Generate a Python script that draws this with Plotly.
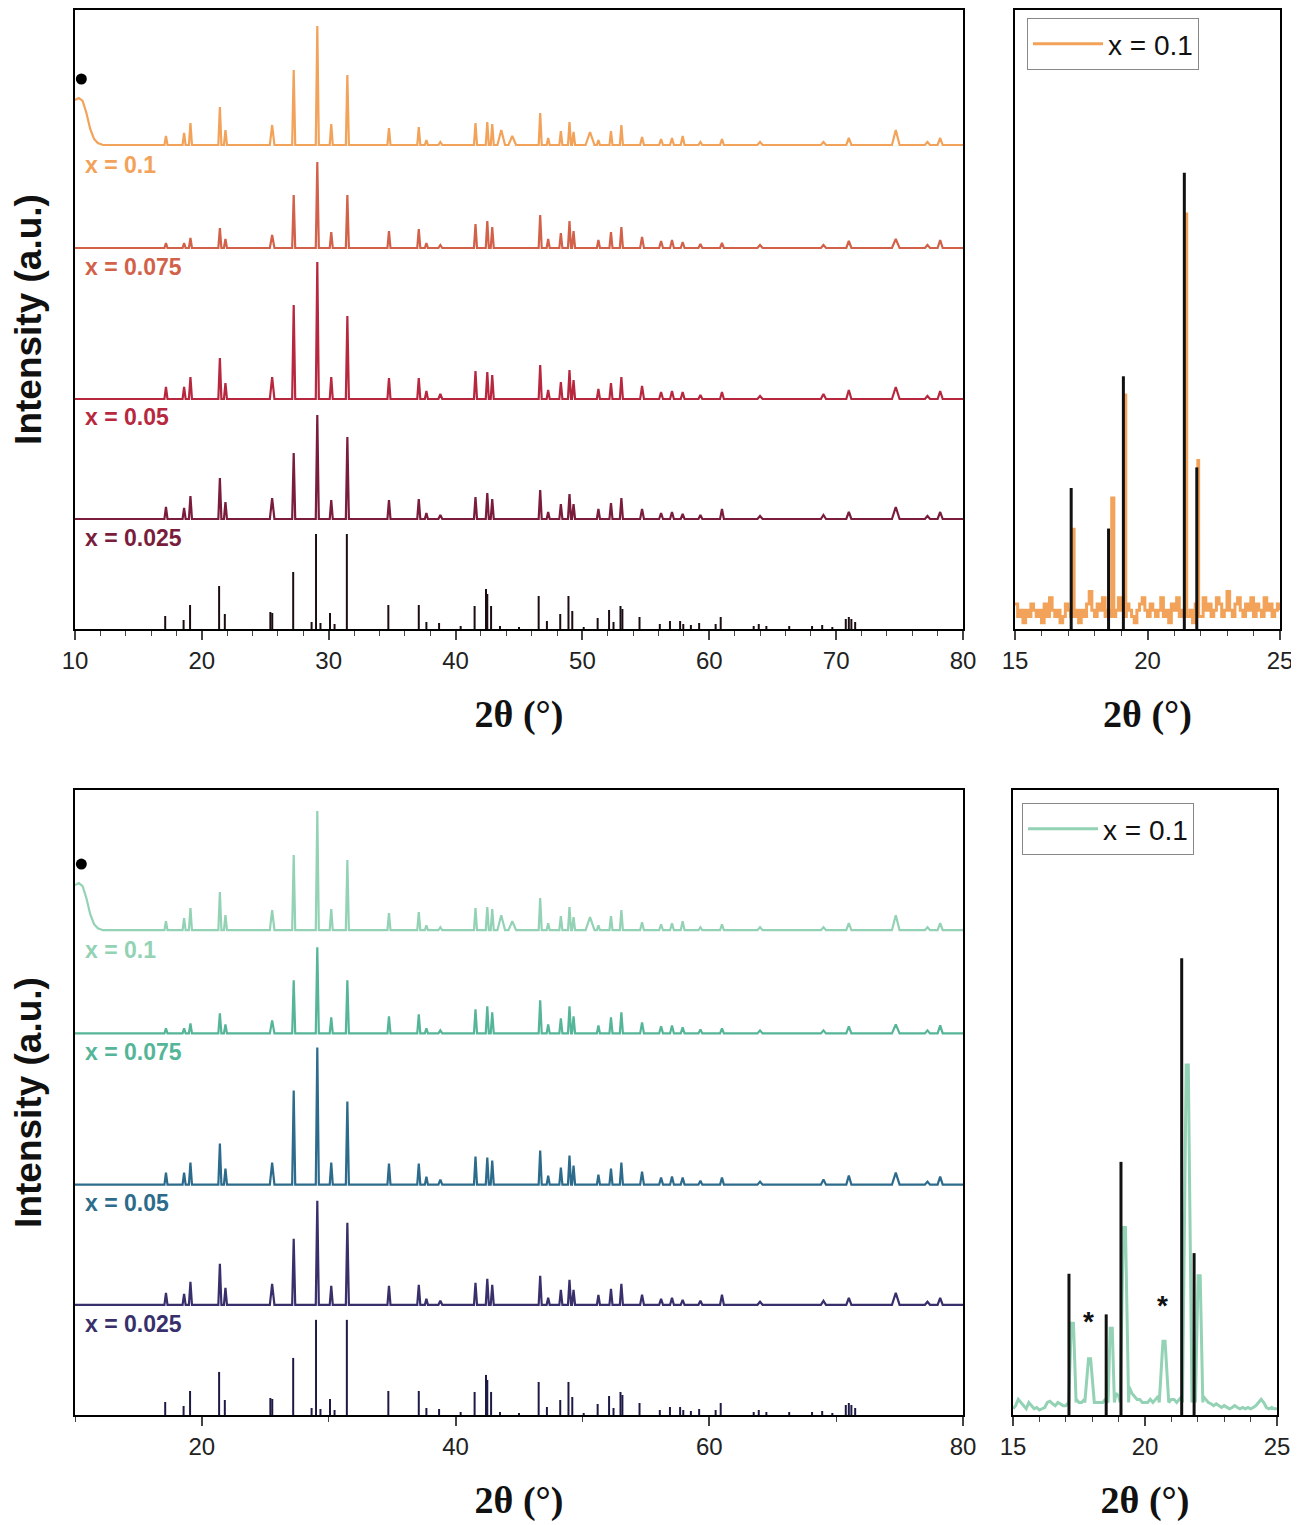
import plotly.graph_objects as go

# ---- data ------------------------------------------------------------------
# measured peak positions (2theta, deg) shared by all samples
PEAK_POS = [17.17, 18.6, 19.1, 21.42, 21.86, 25.54, 27.24, 29.1, 30.2, 31.47,
            34.75, 37.1, 37.7, 38.8, 41.57, 42.5, 42.89, 43.6, 44.47, 46.67,
            47.3, 48.3, 48.98, 49.3, 50.6, 51.26, 52.25, 53.07, 54.7, 56.2,
            57.06, 57.9, 59.3, 61.0, 64.0, 69.0, 71.0, 74.7, 77.2, 78.2]
PEAK_W = [0.12, 0.12, 0.12, 0.12, 0.12, 0.18, 0.12, 0.12, 0.12, 0.12,
          0.12, 0.12, 0.12, 0.15, 0.12, 0.12, 0.12, 0.3, 0.3, 0.12,
          0.12, 0.12, 0.12, 0.12, 0.35, 0.12, 0.12, 0.12, 0.15, 0.15,
          0.15, 0.15, 0.15, 0.15, 0.2, 0.2, 0.2, 0.3, 0.2, 0.2]

# peak heights (a.u.) per sample
H_010 = [9, 12, 22, 38, 15, 20, 75, 119, 21, 70,
         17, 18, 5, 3, 22, 23, 21, 15, 9, 32,
         7, 14, 23, 13, 13, 5, 14, 20, 8, 6,
         7, 9, 3, 6, 3, 3, 7, 15, 3, 7]
H_0075 = [5, 5, 10, 20, 9, 13, 53, 86, 16, 53,
          17, 19, 5, 3, 24, 27, 21, 0, 0, 33,
          9, 15, 27, 17, 0, 8, 16, 21, 11, 7,
          8, 6, 4, 5, 3, 3, 7, 9, 3, 8]
H_005 = [12, 12, 22, 41, 16, 22, 94, 137, 22, 83,
         21, 21, 8, 5, 28, 27, 24, 0, 0, 34,
         9, 17, 29, 19, 0, 10, 16, 22, 13, 7,
         8, 7, 4, 7, 3, 5, 9, 12, 3, 8]
H_0025 = [12, 11, 23, 41, 17, 21, 66, 104, 19, 82,
          19, 20, 6, 4, 22, 26, 20, 0, 0, 29,
          7, 15, 25, 15, 0, 10, 16, 21, 10, 6,
          7, 5, 4, 10, 3, 4, 7, 12, 3, 7]

SAMPLES = ["x = 0.1", "x = 0.075", "x = 0.05", "x = 0.025"]
HEIGHTS = [H_010, H_0075, H_005, H_0025]
BASELINES = [484, 381, 230, 110]
LABEL_Y = [464, 362, 212, 91]

# amorphous hump at low angle of x = 0.1
HUMP_X = [10.0, 10.3, 10.6, 10.9, 11.2, 11.5, 11.8, 12.2]
HUMP_Y = [45, 47, 44, 32, 16, 6, 2, 0]
DOT_X = [10.5]
DOT_Y = [550]

# reference pattern sticks
REF_POS = [17.11, 18.56, 19.07, 21.36, 21.81, 25.4, 25.55, 27.2, 28.65, 29.0,
           29.35, 30.1, 30.46, 31.43, 34.7, 37.1, 37.7, 38.7, 40.4, 41.5,
           42.4, 42.5, 42.8, 43.5, 45.0, 46.55, 47.2, 48.25, 48.9, 49.2,
           50.1, 51.2, 52.1, 52.45, 53.0, 53.15, 54.5, 56.1, 56.9, 57.7,
           57.95, 58.55, 59.2, 60.5, 60.9, 63.5, 63.9, 64.5, 66.3, 68.1,
           68.9, 69.7, 70.76, 71.0, 71.2, 71.5]
REF_H = [13, 9, 24, 43, 15, 17, 16, 57, 7, 95,
         6, 16, 5, 95, 24, 24, 7, 6, 3, 23,
         40, 35, 23, 3, 2, 33, 8, 15, 33, 18,
         2, 11, 19, 7, 23, 20, 12, 5, 8, 8,
         5, 4, 6, 5, 12, 3, 5, 3, 3, 3,
         4, 2, 10, 12, 10, 7]

# zoomed 15-25 deg panels
ZOOM_REF_POS = [17.12, 18.53, 19.09, 21.39, 21.86]
ZOOM_REF_H = [0.226, 0.161, 0.405, 0.731, 0.259]

TOP_ZOOM_POS = [17.2, 18.65, 19.15, 21.45, 21.9]
TOP_ZOOM_H = [0.16, 0.21, 0.375, 0.665, 0.27]
TOP_ZOOM_W = [0.03, 0.08, 0.03, 0.03, 0.03]
TOP_ZOOM_NOISE = [0.04, 0.02, 0.03, 0.01, 0.03, 0.02, 0.04, 0.03, 0.02, 0.03,
                  0.01, 0.04, 0.02, 0.05, 0.03, 0.02, 0.03, 0.01, 0.02, 0.04,
                  0.03, 0.02, 0.05, 0.03, 0.01, 0.03, 0.02, 0.04, 0.06, 0.03,
                  0.02, 0.04, 0.03, 0.05, 0.02, 0.03, 0.04, 0.02, 0.03, 0.05,
                  0.03, 0.02, 0.04, 0.03, 0.02, 0.01, 0.03, 0.04, 0.05, 0.03,
                  0.02, 0.04, 0.03, 0.02, 0.03, 0.05, 0.02, 0.03, 0.01, 0.04,
                  0.03, 0.05, 0.02, 0.03, 0.04, 0.02, 0.03, 0.01, 0.04, 0.03,
                  0.02, 0.05, 0.03, 0.04, 0.02, 0.03, 0.05, 0.04, 0.02, 0.03,
                  0.06, 0.03, 0.02, 0.04, 0.05, 0.03, 0.02, 0.04, 0.03, 0.05,
                  0.02, 0.04, 0.03, 0.02, 0.05, 0.03, 0.04, 0.02, 0.03, 0.04,
                  0.03]

BOT_ZOOM_POS = [17.25, 17.9, 18.72, 19.22, 20.72, 21.6, 22.05]
BOT_ZOOM_H = [0.147, 0.09, 0.139, 0.30, 0.118, 0.56, 0.223]
BOT_ZOOM_W = [0.14, 0.18, 0.12, 0.16, 0.18, 0.18, 0.14]
BOT_ZOOM_NOISE = [0.01, 0.015, 0.025, 0.02, 0.015, 0.01, 0.02, 0.015, 0.01, 0.012,
                  0.008, 0.01, 0.012, 0.02, 0.022, 0.018, 0.015, 0.02, 0.018, 0.015,
                  0.015, 0.02, 0.03, 0.03, 0.025, 0.02, 0.02, 0.025, 0.03, 0.03,
                  0.025, 0.02, 0.02, 0.02, 0.02, 0.025, 0.03, 0.04, 0.04, 0.035,
                  0.03, 0.03, 0.04, 0.06, 0.045, 0.035, 0.03, 0.025, 0.025, 0.02,
                  0.02, 0.02, 0.025, 0.02, 0.025, 0.03, 0.035, 0.04, 0.035, 0.03,
                  0.025, 0.025, 0.02, 0.025, 0.03, 0.04, 0.06, 0.05, 0.04, 0.035,
                  0.03, 0.035, 0.03, 0.025, 0.02, 0.018, 0.015, 0.018, 0.015, 0.012,
                  0.015, 0.012, 0.01, 0.012, 0.015, 0.012, 0.01, 0.012, 0.01, 0.012,
                  0.01, 0.012, 0.015, 0.02, 0.025, 0.02, 0.012, 0.01, 0.012, 0.01,
                  0.01]
ASTERISK_X = [17.85, 20.68]
ASTERISK_Y = [0.15, 0.175]

TOP_COLORS = ["#F2A259", "#D2614A", "#B7283F", "#7A1C3C"]
BOT_COLORS = ["#93D2B4", "#55B598", "#2C6B8B", "#38306B"]
TOP_REF = "#1c0c14"
BOT_REF = "#1d1b45"

W, H = 1299, 1525
PAGE_PAD = 8  # the browser's default body margin
SANS = "Liberation Sans, Arial, sans-serif"
SERIF = "Liberation Serif, Times New Roman, serif"


def fx(px):
    return min(1.0, max(0.0, (px - PAGE_PAD) / W))


def fy(py):
    return min(1.0, max(0.0, 1 - (py - PAGE_PAD) / H))


def spectrum(base, heights, hump=False):
    pts = [(x, base + y) for x, y in zip(HUMP_X, HUMP_Y)] if hump else [(10, base)]
    for p, h, w in zip(PEAK_POS, heights, PEAK_W):
        if h > 0:
            pts += [(p - w, base), (p, base + h), (p + w, base)]
    pts.append((80, base))
    pts.sort()
    return [p[0] for p in pts], [p[1] for p in pts]


def sticks(pos, hts):
    xs, ys = [], []
    for p, h in zip(pos, hts):
        xs += [p, p, None]
        ys += [0, h, None]
    return xs, ys


def zoom_line(noise, pos, hts, widths, flat=0.0):
    grid = [15 + i * 0.1 for i in range(len(noise))]
    pts = [(g, n) for g, n in zip(grid, noise)
           if not any(abs(g - p) <= w for p, w in zip(pos, widths))]
    for p, h, w in zip(pos, hts, widths):
        if flat:
            pts += [(p - w, 0.02), (p - flat, h), (p + flat, h), (p + w, 0.02)]
        else:
            pts += [(p - w, 0.02), (p, h), (p + w, 0.02)]
    pts.sort()
    return [p[0] for p in pts], [p[1] for p in pts]


fig = go.Figure()

for panel, colors, ref_color in [(1, TOP_COLORS, TOP_REF), (3, BOT_COLORS, BOT_REF)]:
    xa, ya = "x%d" % panel, "y%d" % panel
    for i, (name, hts, base) in enumerate(zip(SAMPLES, HEIGHTS, BASELINES)):
        sx, sy = spectrum(base, hts, hump=(i == 0))
        fig.add_trace(go.Scatter(x=sx, y=sy, mode="lines", xaxis=xa, yaxis=ya,
                                 line=dict(color=colors[i], width=2.2),
                                 showlegend=False, hoverinfo="skip"))
        fig.add_annotation(x=10.6, y=LABEL_Y[i], xref=xa, yref=ya, text="<b>%s</b>" % name,
                           showarrow=False, xanchor="left", yanchor="middle",
                           font=dict(family=SANS, size=23, color=colors[i]))
    rx, ry = sticks(REF_POS, REF_H)
    fig.add_trace(go.Scatter(x=rx, y=ry, mode="lines", xaxis=xa, yaxis=ya,
                             line=dict(color=ref_color, width=2),
                             showlegend=False, hoverinfo="skip"))
    fig.add_trace(go.Scatter(x=DOT_X, y=DOT_Y, mode="markers", xaxis=xa, yaxis=ya,
                             marker=dict(color="black", size=11),
                             showlegend=False, hoverinfo="skip"))

# zoomed panels
zx, zy = zoom_line(TOP_ZOOM_NOISE, TOP_ZOOM_POS, TOP_ZOOM_H, TOP_ZOOM_W)
fig.add_trace(go.Scatter(x=zx, y=zy, mode="lines", xaxis="x2", yaxis="y2", name="x = 0.1",
                         line=dict(color=TOP_COLORS[0], width=3, shape="hv"), legend="legend"))
zx, zy = zoom_line(BOT_ZOOM_NOISE, BOT_ZOOM_POS, BOT_ZOOM_H, BOT_ZOOM_W, flat=0.04)
fig.add_trace(go.Scatter(x=zx, y=zy, mode="lines", xaxis="x4", yaxis="y4", name="x = 0.1",
                         line=dict(color=BOT_COLORS[0], width=3), legend="legend2"))
for panel in (2, 4):
    rx, ry = sticks(ZOOM_REF_POS, ZOOM_REF_H)
    fig.add_trace(go.Scatter(x=rx, y=ry, mode="lines", xaxis="x%d" % panel, yaxis="y%d" % panel,
                             line=dict(color="#111111", width=3),
                             showlegend=False, hoverinfo="skip"))
for ax, ay in zip(ASTERISK_X, ASTERISK_Y):
    fig.add_annotation(x=ax, y=ay, xref="x4", yref="y4", text="<b>*</b>", showarrow=False,
                       font=dict(family=SANS, size=28, color="#111111"))

# axes
tickfont = dict(family=SANS, size=24, color="#222222")
xtitle = dict(text="<b>2θ (°)</b>", font=dict(family=SERIF, size=38, color="#111111"), standoff=28)
ytitle = dict(text="<b>Intensity (a.u.)</b>", font=dict(family=SANS, size=37, color="#111111"),
              standoff=28)
box = dict(showline=True, linecolor="black", linewidth=1.5, mirror=True,
           showgrid=False, zeroline=False, automargin=False)
xcommon = dict(ticks="outside", ticklen=9, tickwidth=1.5, tickfont=tickfont, title=xtitle, **box)
ycommon = dict(showticklabels=False, ticks="", **box)
dom_left = [fx(75), fx(963)]
dom_rt = [fx(1015), fx(1280)]
dom_rb = [fx(1013), fx(1277)]
dom_top = [fy(629), fy(10)]
dom_bot = [fy(1415), fy(790)]

fig.update_layout(
    xaxis=dict(domain=dom_left, anchor="y", range=[10, 80], dtick=10,
               minor=dict(dtick=2, ticks="outside", ticklen=5, tickwidth=1.2), **xcommon),
    yaxis=dict(domain=dom_top, anchor="x", range=[0, 619], title=ytitle, **ycommon),
    xaxis2=dict(domain=dom_rt, anchor="y2", range=[15, 25], dtick=5,
                minor=dict(dtick=1, ticks="outside", ticklen=5, tickwidth=1.2), **xcommon),
    yaxis2=dict(domain=dom_top, anchor="x2", range=[0, 0.992], **ycommon),
    xaxis3=dict(domain=dom_left, anchor="y3", range=[10, 80], tick0=0, dtick=20,
                minor=dict(dtick=10, ticks="outside", ticklen=5, tickwidth=1.2), **xcommon),
    yaxis3=dict(domain=dom_bot, anchor="x3", range=[0, 624], title=ytitle, **ycommon),
    xaxis4=dict(domain=dom_rb, anchor="y4", range=[15, 25], dtick=5,
                minor=dict(dtick=1, ticks="outside", ticklen=5, tickwidth=1.2), **xcommon),
    yaxis4=dict(domain=dom_bot, anchor="x4", range=[0, 1], **ycommon),
    legend=dict(x=fx(1027), y=fy(18), xanchor="left", yanchor="top", itemwidth=70,
                bordercolor="#888888", borderwidth=1, bgcolor="white",
                font=dict(family=SANS, size=28, color="#111111")),
    legend2=dict(x=fx(1022), y=fy(803), xanchor="left", yanchor="top", itemwidth=70,
                 bordercolor="#888888", borderwidth=1, bgcolor="white",
                 font=dict(family=SANS, size=28, color="#111111")),
    width=W, height=H, margin=dict(l=0, r=0, t=0, b=0, autoexpand=False),
    paper_bgcolor="white", plot_bgcolor="white",
)

fig.write_html("out.html")
